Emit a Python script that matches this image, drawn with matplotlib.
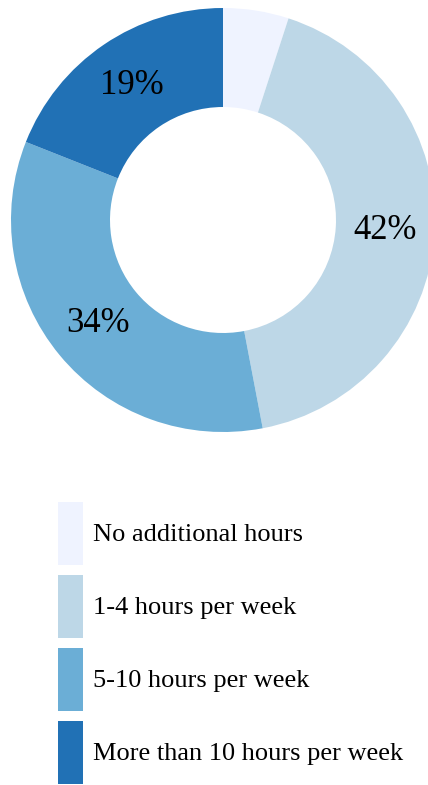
import matplotlib
matplotlib.use("Agg")
import matplotlib.pyplot as plt

categories = ["No additional hours", "1-4 hours per week",
              "5-10 hours per week", "More than 10 hours per week"]
shares = [5, 42, 34, 19]
colors = ["#eff3ff", "#bdd7e7", "#6baed6", "#2171b5"]

plt.rcParams['font.family'] = ['Liberation Serif', 'DejaVu Serif']

W, H = 428, 785
fig = plt.figure(figsize=(W / 100, H / 100), dpi=100)

# donut: centre (223, 220) px from top-left, outer radius 212 px
cx, cy, r = 223, 220, 212
ax = fig.add_axes([(cx - r) / W, 1 - (cy + r) / H, 2 * r / W, 2 * r / H])
wedges, texts, autotexts = ax.pie(
    shares, colors=colors, startangle=90, counterclock=False,
    radius=1, wedgeprops=dict(width=0.467, linewidth=0),
    autopct=lambda p: f"{p:.0f}%" if p > 10 else "",
    pctdistance=0.765, textprops=dict(fontsize=25, color="black"))
ax.set_xlim(-1, 1)
ax.set_ylim(-1, 1)
ax.axis("off")

# legend boxes 25x63 px, 10 px apart
fs = 19
px = fs * 100 / 72
hh = (63 / px - 0.245) / 0.65   # legend trims a descent off handleheight
fig.legend(wedges, categories, loc="upper left",
           bbox_to_anchor=(58 / W, 1 - 502 / H), frameon=False,
           fontsize=fs, borderpad=0, borderaxespad=0,
           handlelength=25 / px, handleheight=hh,
           labelspacing=10 / px, handletextpad=10 / px)

fig.savefig("out.png", dpi=100)
